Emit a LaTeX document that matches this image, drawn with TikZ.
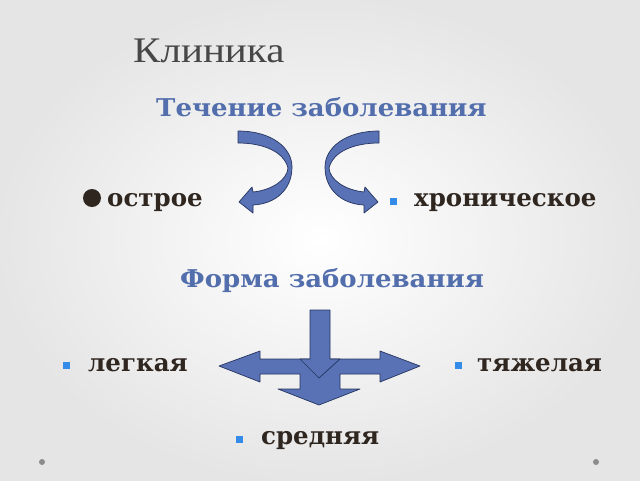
\documentclass[tikz,border=0pt]{standalone}
\usepackage{fontspec}
\setmainfont{Liberation Serif}
\newfontfamily\bukvy{DejaVu Serif}
\newfontfamily\shirokie{DejaVu Serif}[FakeStretch=1.06]
\newfontfamily\titulnyi{Liberation Serif}[FakeStretch=1.14]
\definecolor{zagolcol}{RGB}{82,110,172}
\definecolor{tekstcol}{RGB}{48,38,32}
\definecolor{kvcol}{RGB}{52,140,232}
\definecolor{strfill}{RGB}{88,114,181}
\definecolor{strline}{RGB}{38,52,96}
\begin{document}
\begin{tikzpicture}[x=1pt,y=-1pt,
    titul/.style={anchor=base west,inner sep=0pt,text=black!72,font=\titulnyi\fontsize{36}{40}\selectfont},
    zagol/.style={anchor=base west,inner sep=0pt,text=zagolcol,font=\shirokie\bfseries\fontsize{24.5}{28}\selectfont},
    punkt/.style={anchor=base west,inner sep=0pt,text=tekstcol,font=\bukvy\bfseries\fontsize{24.5}{28}\selectfont},
    kvadrat/.style={rectangle,fill=kvcol,minimum size=7pt,inner sep=0pt},
    strelka/.style={fill=strfill,draw=strline,line width=0.7pt,line join=round},
    krivaya/.pic={
      \filldraw[strelka] (238,131) .. controls (272,131) and (292,148) .. (292,167)
        .. controls (292,190) and (275,204) .. (253,205) -- (253,213) -- (239,202) -- (252,187) -- (253,192)
        .. controls (272,190) and (287,180) .. (288,168)
        .. controls (284,152) and (264,143) .. (238,143) -- cycle;
    }]
  \useasboundingbox (0,0) rectangle (640,480);
  \shade[inner color=white,outer color=black!10] (0,0) rectangle (640,480);

  \node (klinika) [titul] at (133,62) {Клиника};
  \node (techenie) [zagol] at (156,116) {Течение заболевания};

  % curved arrows
  \pic at (0,0) {krivaya};
  \pic[xscale=-1] at (617,0) {krivaya};

  \node (krug) [circle,fill=tekstcol,minimum size=18pt,inner sep=0pt] at (92,198) {};
  \node (ostroe) [punkt] at (107,206) {острое};
  \node (kv1) [kvadrat] at (393.5,201.5) {};
  \node (xron) [punkt] at (414,206) {хроническое};

  \node (forma) [zagol] at (180,287) {Форма заболевания};

  % cross arrow
  \filldraw[strelka] (219,366) -- (260,351) -- (260,359) -- (380,359) -- (380,351) -- (420,366)
    -- (380,382) -- (380,374) -- (340,374) -- (340,389) -- (360,389) -- (319,405) -- (278,389)
    -- (300,389) -- (300,374) -- (260,374) -- (260,382) -- cycle;
  \filldraw[strelka] (310,310) -- (330,310) -- (330,359) -- (340,359) -- (319,378) -- (300,359)
    -- (310,359) -- cycle;

  \node (kv2) [kvadrat] at (66.5,365.5) {};
  \node (legk) [punkt] at (88,371) {легкая};
  \node (kv3) [kvadrat] at (458.5,365.5) {};
  \node (tyazh) [punkt] at (477,371) {тяжелая};
  \node (kv4) [kvadrat] at (239.5,439) {};
  \node (sredn) [punkt] at (261,444) {средняя};

  \node (t1) [circle,fill=black!45,minimum size=6pt,inner sep=0pt] at (42,462) {};
  \node (t2) [circle,fill=black!45,minimum size=6pt,inner sep=0pt] at (596,462) {};
\end{tikzpicture}
\end{document}
